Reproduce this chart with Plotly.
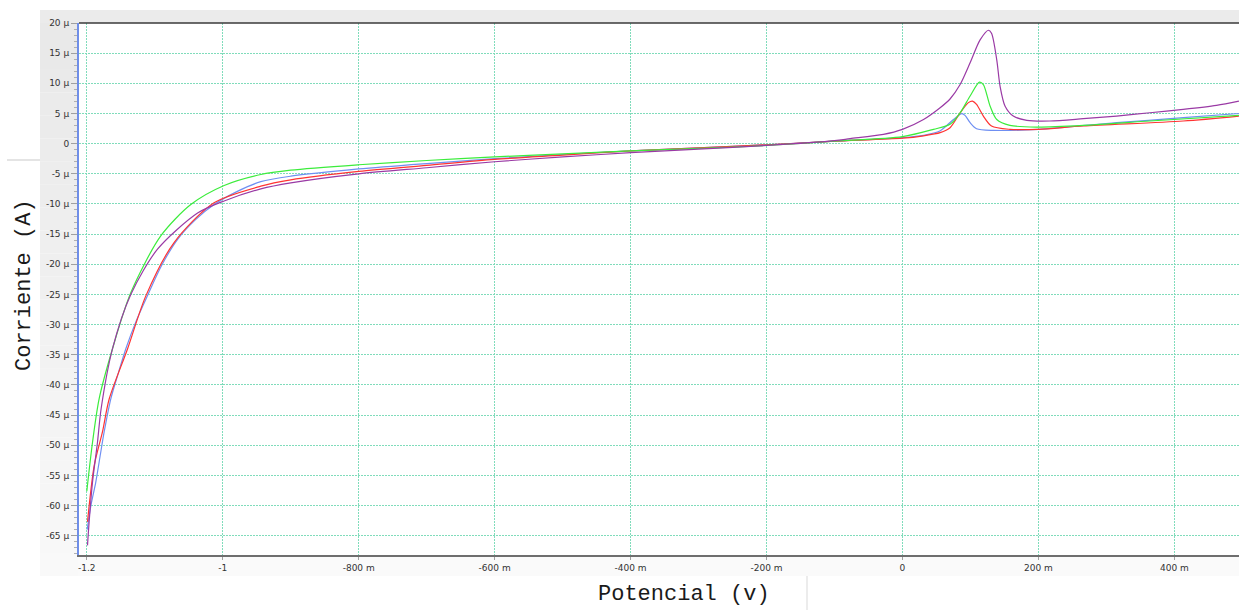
import plotly.graph_objects as go

# ---------------- data (potential in V, current in µA) ----------------
blue_v = [-1.1995, -1.1940, -1.1868, -1.1800, -1.1745, -1.1647, -1.1530, -1.1426, -1.1270, -1.1108,
          -1.0900, -1.0667, -1.0400, -1.0128, -0.9800, -0.944, -0.90, -0.80, -0.70, -0.60, -0.50,
          -0.40, -0.30, -0.20, -0.10, 0.0, 0.031, 0.055, 0.075, 0.0873, 0.092, 0.0995, 0.109,
          0.134, 0.20, 0.315, 0.413, 0.495]
blue_i = [-64.0, -60.0, -56.1, -51.5, -47.8, -42.3, -37.8, -34.0, -29.3, -25.2,
          -20.2, -15.9, -12.6, -10.1, -8.0, -6.3, -5.4, -4.2, -3.3, -2.5, -1.8,
          -1.2, -0.7, -0.2, 0.4, 1.0, 1.38, 2.1, 4.0, 4.96, 4.68, 3.47, 2.48,
          2.2, 2.37, 3.47, 4.3, 5.0]

red_v = [-1.199, -1.189, -1.177, -1.167, -1.140, -1.113, -1.0716, -1.0128, -0.944, -0.90,
         -0.80, -0.70, -0.60, -0.50, -0.40, -0.30, -0.20, -0.10, 0.0, 0.031, 0.0554, 0.070,
         0.0848, 0.097, 0.103, 0.109, 0.119, 0.131, 0.158, 0.20, 0.266, 0.413, 0.495]
red_i = [-62.7, -53.3, -47.8, -42.3, -34.0, -25.2, -16.4, -9.8, -7.05, -6.0,
         -4.6, -3.6, -2.6, -1.9, -1.2, -0.7, -0.2, 0.4, 0.9, 1.3, 1.82, 2.64,
         5.1, 6.8, 7.05, 6.5, 4.57, 2.92, 2.37, 2.37, 2.92, 3.75, 4.57]

green_v = [-1.2, -1.1916, -1.1819, -1.1622, -1.1353, -1.0912, -1.047, -0.998, -0.944, -0.90,
           -0.80, -0.70, -0.60, -0.50, -0.40, -0.30, -0.20, -0.10, 0.0, 0.0456, 0.070, 0.0848,
           0.0995, 0.1132, 0.119, 0.129, 0.1387, 0.158, 0.1975, 0.266, 0.364, 0.495]
green_i = [-57.6, -49.5, -42.3, -34.0, -24.7, -15.3, -10.1, -6.94, -5.12, -4.4,
           -3.5, -2.8, -2.2, -1.7, -1.2, -0.8, -0.3, 0.4, 1.16, 2.37, 3.2, 5.1,
           7.9, 10.2, 9.8, 6.2, 4.0, 3.03, 2.75, 3.03, 3.75, 4.68]

purple_v = [-1.199, -1.1966, -1.1916, -1.1843, -1.179, -1.1622, -1.1353, -1.096, -1.037, -0.998,
            -0.944, -0.90, -0.80, -0.70, -0.60, -0.50, -0.40, -0.30, -0.20, -0.10, -0.077,
            -0.028, 0.0, 0.031, 0.0554, 0.070, 0.0848, 0.0995, 0.1142, 0.1265, 0.131, 0.1387,
            0.1436, 0.151, 0.163, 0.183, 0.217, 0.266, 0.315, 0.364, 0.413, 0.462, 0.495]
purple_i = [-66.6, -62.7, -56.1, -49.5, -44.0, -34.0, -25.0, -17.5, -11.5, -9.5,
            -7.5, -6.5, -5.0, -4.0, -3.0, -2.2, -1.5, -0.9, -0.3, 0.5, 0.83,
            1.54, 2.37, 4.0, 5.95, 7.4, 9.8, 13.4, 17.2, 18.8, 18.3, 13.9,
            9.5, 6.2, 4.57, 3.86, 3.75, 4.13, 4.57, 5.12, 5.67, 6.34, 7.05]

x_tickvals = [-1.2, -1.0, -0.8, -0.6, -0.4, -0.2, 0.0, 0.2, 0.4]
x_ticktext = ["-1.2", "-1", "-800 m", "-600 m", "-400 m", "-200 m", "0", "200 m", "400 m"]
y_tickvals = [20, 15, 10, 5, 0, -5, -10, -15, -20, -25, -30, -35, -40, -45, -50, -55, -60, -65]
y_ticktext = ["20 µ", "15 µ", "10 µ", "5 µ", "0", "-5 µ", "-10 µ", "-15 µ", "-20 µ", "-25 µ",
              "-30 µ", "-35 µ", "-40 µ", "-45 µ", "-50 µ", "-55 µ", "-60 µ", "-65 µ"]

series = [
    (blue_v, blue_i, "#6f8ff2"),
    (red_v, red_i, "#ff3333"),
    (green_v, green_i, "#3cec3c"),
    (purple_v, purple_i, "#9a3aa5"),
]

# ---------------- figure ----------------
W, H = 1239, 610
ML, MR, MT, MB = 79, 0, 23, 55
PW, PH = W - ML - MR, H - MT - MB


def px(x):
    return (x - ML) / PW


def py(y):
    return (H - MB - y) / PH


fig = go.Figure()
for xv, yv, col in series:
    fig.add_trace(go.Scatter(x=xv, y=yv, mode="lines",
                             line=dict(color=col, width=1.2, shape="spline", smoothing=0.8),
                             showlegend=False, hoverinfo="skip"))

shapes = []
# top grey band
shapes.append(dict(type="rect", xref="paper", yref="paper", x0=px(40), x1=px(1239),
                   y0=py(23), y1=py(10), fillcolor="#ebebeb", line_width=0, layer="below"))
# left grey band (vertical gradient)
n = 24
top, bot = 23, 576
for k in range(n):
    y0 = top + (bot - top) * k / n
    y1 = top + (bot - top) * (k + 1) / n
    c = int(233 + (249 - 233) * k / (n - 1))
    shapes.append(dict(type="rect", xref="paper", yref="paper", x0=px(40), x1=px(78),
                       y0=py(y1), y1=py(y0), fillcolor=f"rgb({c},{c},{c})", line_width=0,
                       layer="below"))
# bottom tick-label band
shapes.append(dict(type="rect", xref="paper", yref="paper", x0=px(78), x1=px(1239),
                   y0=py(576), y1=py(555), fillcolor="#fafafa", line_width=0, layer="below"))
# small separators of the screenshot
shapes.append(dict(type="line", xref="paper", yref="paper", x0=px(7), x1=px(40),
                   y0=py(160), y1=py(160), line=dict(color="#e4e4e4", width=2), layer="below"))
shapes.append(dict(type="line", xref="paper", yref="paper", x0=px(807), x1=px(807),
                   y0=py(576), y1=py(610), line=dict(color="#ececec", width=2), layer="below"))
# top frame line
shapes.append(dict(type="line", xref="paper", yref="paper", x0=0, x1=1, y0=1, y1=1,
                   line=dict(color="#3a3a3a", width=1.5), layer="above"))

tickfont = dict(family="DejaVu Sans, Verdana, sans-serif", size=9, color="#333333")
gridc = "#80dcbb"
gdash = "2px,1px"

fig.update_layout(
    width=W, height=H,
    margin=dict(l=ML, r=MR, t=MT, b=MB, pad=0),
    paper_bgcolor="white", plot_bgcolor="white",
    shapes=shapes,
    xaxis=dict(range=[-1.2115, 0.4951], tickmode="array", tickvals=x_tickvals,
               ticktext=x_ticktext, tickfont=tickfont, ticks="outside", ticklen=3,
               tickcolor="#a0a0a0", showgrid=True, gridcolor=gridc, griddash=gdash,
               gridwidth=1, zeroline=False, showline=True, linecolor="#6e6e6e",
               linewidth=2, mirror=False),
    yaxis=dict(range=[-68.2, 20.0], tickmode="array", tickvals=y_tickvals,
               ticktext=y_ticktext, tickfont=tickfont, ticks="outside", ticklen=6,
               tickcolor="#a0a0a0", showgrid=True, gridcolor=gridc, griddash=gdash,
               gridwidth=1, zeroline=False, showline=True, linecolor="#6f8ee8",
               linewidth=2,
               minor=dict(dtick=1, tick0=0, ticks="outside", ticklen=3,
                          tickcolor="#b0b0b0", showgrid=False)),
    annotations=[
        dict(text="Corriente (A)", xref="paper", yref="paper", x=px(25), y=py(285),
             xanchor="center", yanchor="middle", textangle=-90, showarrow=False,
             font=dict(family="Liberation Mono, Courier New, monospace", size=22,
                       color="#1a1a1a")),
        dict(text="Potencial (v)", xref="paper", yref="paper", x=px(684), y=py(594),
             xanchor="center", yanchor="middle", showarrow=False,
             font=dict(family="Liberation Mono, Courier New, monospace", size=22,
                       color="#1a1a1a")),
    ],
)

fig.write_html("out.html", config={"displayModeBar": False},
               post_script="document.body.style.margin='0';document.body.style.padding='0';")
